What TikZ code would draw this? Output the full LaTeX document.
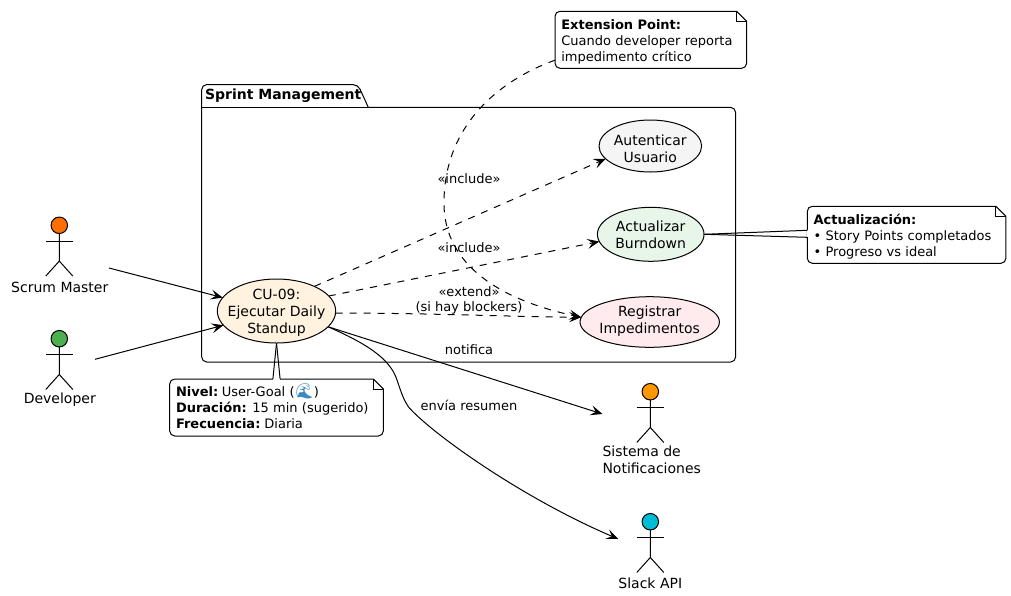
\documentclass[tikz,border=0pt]{standalone}
\usepackage{fontspec}
\setmainfont{DejaVu Sans}
\newfontfamily\emojifont{Noto Emoji}
\usetikzlibrary{arrows.meta,shapes.geometric,backgrounds}
\definecolor{cuFill}{HTML}{FFF3E0}
\definecolor{autFill}{HTML}{F5F5F5}
\definecolor{actFill}{HTML}{E8F5E9}
\definecolor{regFill}{HTML}{FFEBEE}
\definecolor{headScrum}{HTML}{FF6F00}
\definecolor{headDev}{HTML}{4CAF50}
\definecolor{headNotif}{HTML}{FF9800}
\definecolor{headSlack}{HTML}{00BCD4}
\definecolor{waveBlue}{HTML}{3B88C3}
\tikzset{
  x=1pt,y=-1pt,
  every node/.style={inner sep=0pt,outer sep=0pt},
  usecase/.style={ellipse,draw=black,line width=1pt,align=center,inner sep=-12pt,font=\fontsize{14}{17}\selectfont},
  actorlabel/.style={align=left,font=\fontsize{14}{17}\selectfont},
  edgelabel/.style={align=center,font=\fontsize{13}{15.5}\selectfont},
  notebox/.style={align=left,inner xsep=6.3pt,font=\fontsize{13}{16}\selectfont},
  flow/.style={line width=1pt,-{Stealth[length=12pt,width=10pt,inset=5pt]}},
  dep/.style={flow,dash pattern=on 7pt off 7pt},
  notelink/.style={line width=1pt},
  actorline/.style={line width=1pt},
  head/.style={circle,draw=black,line width=1pt,minimum size=16.5pt},
}
% invisible struts that fix the height of a first line and the depth of a last one
\newcommand{\topline}[1]{\rule{0pt}{#1pt}}
\newcommand{\botline}[1]{\rule[-#1pt]{0pt}{0pt}}
% outline of a note with a folded corner, behind its text
\newcommand{\notebg}[1]{%
  \begin{scope}[on background layer]
  \draw[fill=white,line width=1pt]
    ([xshift=-10pt]#1.north east)
    [rounded corners=5pt] -- (#1.north west) -- (#1.south west) -- (#1.south east)
    [sharp corners] -- ([yshift=-10pt]#1.north east) -- cycle;
  \draw[line width=1pt] ([xshift=-10pt]#1.north east) -- ([xshift=-10pt,yshift=-10pt]#1.north east) -- ([yshift=-10pt]#1.north east);
  \end{scope}}
% stick figure hanging from a named head node
\newcommand{\stickman}[1]{%
  \draw[actorline] (#1.south) -- ++(0,27.5)
    ++(-13.5,15) -- ++(13.5,-15) -- ++(13.5,15);
  \draw[actorline] ([yshift=-7.5pt]#1.south) ++(-13.5,0) -- ++(27,0);}
\begin{document}
\begin{tikzpicture}
\useasboundingbox (0,0) rectangle (1011,595);

% notes
\node[notebox,text width=179pt,minimum height=57pt,anchor=north west] (extnote) at (555,11.3)
  {\topline{14}\textbf{Extension Point:}\\Cuando developer reporta\\impedimento crítico\botline{3.5}};
\notebg{extnote}
\node[notebox,text width=186pt,minimum height=57pt,anchor=north west] (actnote) at (807.3,206.3)
  {\topline{14}\textbf{Actualización:}\\• Story Points completados\\• Progreso vs ideal\botline{3.5}};
\notebg{actnote}
\node[notebox,text width=201pt,minimum height=57pt,anchor=north west] (cunote) at (169.7,379)
  {\topline{14}\textbf{Nivel:}\hspace{-3pt} User-Goal ({\emojifont\fontsize{15}{16}\selectfont\textcolor{waveBlue}{🌊}})\\\textbf{Duración:}\hspace{-1pt} 15 min (sugerido)\\\textbf{Frecuencia:}\hspace{-2.5pt} Diaria\botline{3.5}};
\notebg{cunote}

% package
\draw[line width=1pt,rounded corners=5pt]
  (201.7,107.4) -- (201.7,84.6) -- (358,84.6) [sharp corners] -- (368.3,107.4) [rounded corners=5pt] -- (735.6,107.4) -- (735.6,362) -- (201.7,362) [sharp corners] -- cycle;
\draw[line width=1pt] (201.7,107.4) -- (368.3,107.4);
\node[anchor=west,font=\fontsize{14}{16}\selectfont\bfseries] (pkgtitle) at (205,96) {Sprint Management};

% use cases
\node[usecase,fill=cuFill,minimum width=118.4pt,minimum height=64pt] (cu) at (276.5,311) {\topline{14}CU-09:\\Ejecutar Daily\\Standup\botline{3.4}};
\node[usecase,fill=autFill,minimum width=102.6pt,minimum height=52pt] (aut) at (650.3,146) {\topline{19}Autenticar\\Usuario\botline{3.6}};
\node[usecase,fill=actFill,minimum width=106.6pt,minimum height=54pt] (act) at (650.7,234.3) {\topline{14}Actualizar\\Burndown\botline{2.6}};
\node[usecase,fill=regFill,minimum width=139.4pt,minimum height=50.6pt] (reg) at (649.7,322) {\topline{14}Registrar\\Impedimentos\botline{8.6}};

% note tails
\begin{scope}[on background layer]
\fill[white] ([xshift=-3.6pt,yshift=-0.7pt]cunote.north) rectangle ([xshift=3.6pt,yshift=0.7pt]cunote.north);
\draw[notelink] (cu.-90) -- ([xshift=-3.6pt]cunote.north);
\draw[notelink] (cu.-90) -- ([xshift=3.6pt]cunote.north);
\fill[white] ([xshift=-0.7pt,yshift=4.5pt]actnote.west) rectangle ([xshift=0.7pt,yshift=-2.5pt]actnote.west);
\draw[notelink] (act.east) -- ([yshift=4.5pt]actnote.west);
\draw[notelink] (act.east) -- ([yshift=-2.5pt]actnote.west);
\end{scope}

% actors
\node[head,fill=headScrum] (scrum) at (59.3,225.3) {};
\stickman{scrum}
\node[actorlabel,anchor=center] (scrumlabel) at (59.8,287) {Scrum Master};
\node[head,fill=headDev] (dev) at (59.3,338.7) {};
\stickman{dev}
\node[actorlabel,anchor=center] (devlabel) at (59.8,400) {Developer};
\node[head,fill=headNotif] (notif) at (650.3,391.7) {};
\stickman{notif}
\node[actorlabel,anchor=north west] (notiflabel) at (602.5,445.5) {Sistema de\\Notificaciones};
\node[head,fill=headSlack] (slack) at (650.3,521.7) {};
\stickman{slack}
\node[actorlabel,anchor=center] (slacklabel) at (650.3,583) {Slack API};

% free ends beside the actors
\coordinate (scrumout) at (109,268);
\coordinate (devout) at (95,359.3);
\coordinate (notifin) at (602.5,414);
\coordinate (slackin) at (618.3,539);

% connectors
\draw[flow] (scrumout) -- (cu.166);
\draw[flow] (devout) -- (cu.195.4);
\draw[dep] (cu.33) -- (aut.196.5);
\draw[dep] (cu.16.4) -- (act.188.2);
\draw[dep] (cu.-2) .. controls (430,313) and (520,317) .. (reg.176.9);
\draw[dep] (extnote.192.3) .. controls (500,80) and (443,125) .. (444,205) .. controls (445,265) and (500,300) .. (reg.176.9);
\draw[flow] (cu.-17.5) -- (notifin);
\draw[flow] (cu.-17.5) .. controls (365,343) and (390,358) .. (397,380) .. controls (402,395) and (404,400) .. (408.3,406.7) .. controls (430,432) and (520,497) .. (slackin);

% labels
\node[edgelabel] (l1) at (469,178.7) {«include»};
\node[edgelabel] (l2) at (469,247.7) {«include»};
\node[edgelabel] (l3) at (469,300.5) {«extend»\\(si hay blockers)};
\node[edgelabel] (l4) at (469,349.5) {notifica};
\node[edgelabel] (l5) at (469,405.5) {envía resumen};
\end{tikzpicture}
\end{document}
